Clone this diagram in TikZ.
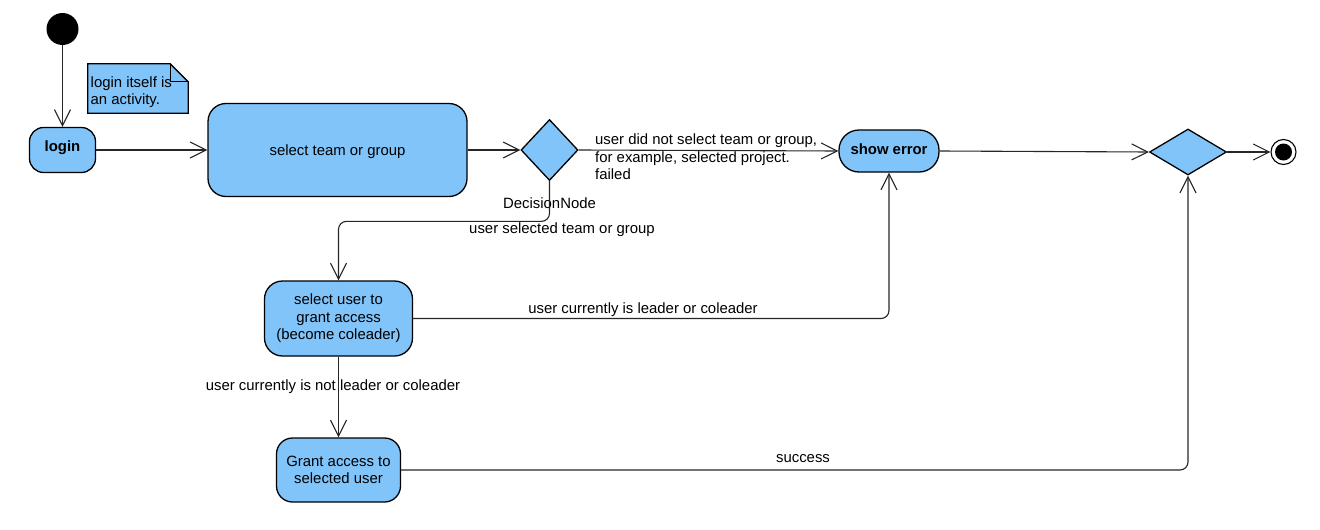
\documentclass[tikz,border=0pt]{standalone}
\usepackage{fontspec}
\setmainfont{Liberation Sans}
\usetikzlibrary{arrows.meta,shapes.geometric}
\definecolor{actblue}{HTML}{80C4FA}
\begin{document}
\begin{tikzpicture}[x=1pt,y=-1pt,
  font=\fontsize{14.9}{17.5}\selectfont,
  act/.style={draw=black, line width=1.3pt, fill=actblue, rounded corners=#1, align=center, inner sep=0pt},
  act/.default=16pt,
  dec/.style={draw=black, line width=1.3pt, fill=actblue, diamond, inner sep=0pt},
  flow/.style={line width=1.1pt, draw=black!85, -{Straight Barb[length=16pt,width=16pt,line width=1.1pt]}, rounded corners=8pt},
  lbl/.style={inner sep=0pt, align=left}
]
\useasboundingbox (0,0) rectangle (1320,530);

% nodes
\node[circle, fill=black, minimum size=32pt, inner sep=0pt] (start) at (62.5,29) {};
\node[inner sep=0pt, minimum width=100pt, minimum height=49pt] (note) at (138,88.5) {};
\filldraw[fill=actblue, draw=black, line width=1.3pt]
  (note.north west) -- ([xshift=-18pt]note.north east) -- ([yshift=-18pt]note.north east)
  -- (note.south east) -- (note.south west) -- cycle;
\draw[line width=1.3pt] ([xshift=-18pt]note.north east) -- ([xshift=-18pt,yshift=-18pt]note.north east) -- ([yshift=-18pt]note.north east);
\node[lbl, anchor=west] (notetext) at (90.5,92) {login itself is\\an activity.};

\node[act=14pt, minimum width=66pt, minimum height=45pt] (login) at (62.5,150) {\raisebox{2pt}[\height][\depth]{\textbf{login}}};
\node[act=18pt, minimum width=259pt, minimum height=93pt] (team) at (337.5,150) {\raisebox{-2pt}[\height][\depth]{select team or group}};
\node[dec, minimum width=57pt, minimum height=61pt] (d1) at (549.5,150) {};
\node[act=20pt, minimum width=100pt, minimum height=42pt] (err) at (889,151) {\raisebox{2pt}[\height][\depth]{\textbf{show error}}};
\node[dec, minimum width=77pt, minimum height=46pt] (d2) at (1188,152) {};
\node[circle, draw=black, line width=1.1pt, fill=white, minimum size=25pt, inner sep=0pt] (end) at (1283.5,152) {};
\node[circle, fill=black, minimum size=17pt, inner sep=0pt] (endin) at (end.center) {};
\node[act=18pt, minimum width=148pt, minimum height=75pt] (sel) at (338.5,318.5) {select user to\\grant access\\(become coleader)};
\node[act=16pt, minimum width=124pt, minimum height=64pt] (grant) at (338.5,470) {Grant access to\\selected user};

% labels
\node[lbl, anchor=west] (lfail) at (595,157) {user did not select team or group,\\for example, selected project.\\failed};
\node[lbl] (ldn) at (549.5,203) {DecisionNode};
\node[lbl] (lsel) at (562,230) {user selected team or group};
\node[lbl] (llead) at (643,310) {user currently is leader or coleader};
\node[lbl] (lnot) at (333,387) {user currently is not leader or coleader};
\node[lbl] (lsucc) at (803,459) {success};

% connectors
\draw[flow] (start) -- (login);
\draw[flow] (login.east) -- (team.west);
\draw[flow] (team.east) -- (d1.west);
\draw[flow] (d1.east) -- (err.west);
\draw[flow] (d1.south) |- ([yshift=59pt]sel.north) -- (sel.north);
\draw[flow] (sel.east) -| (err.south);
\draw[flow] (sel.south) -- (grant.north);
\draw[flow] (grant.east) -| (d2.south);
\draw[flow] (err.east) -- (d2.west);
\draw[flow] (d2.east) -- (end.west);
\end{tikzpicture}
\end{document}
